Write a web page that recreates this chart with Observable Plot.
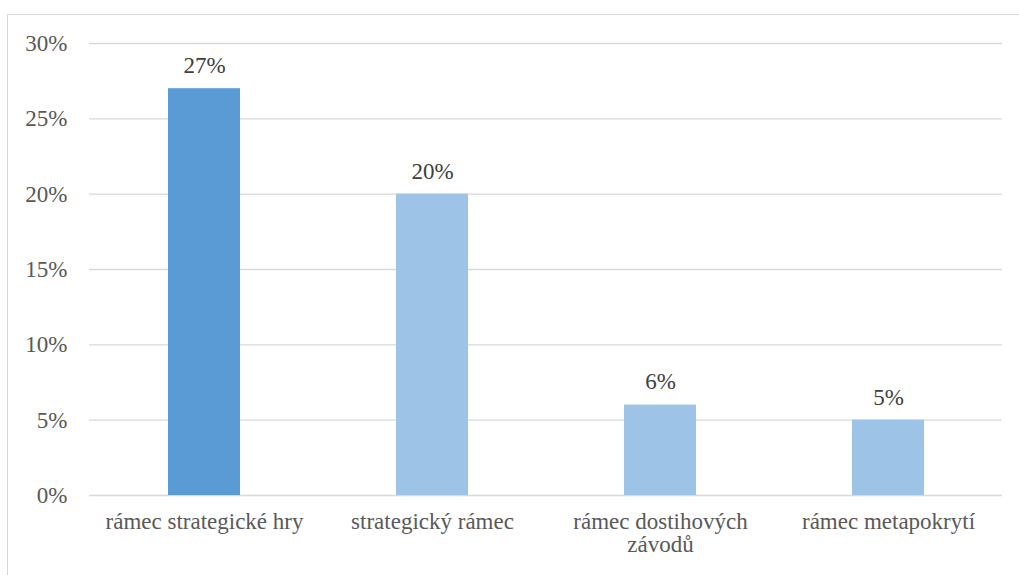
<!DOCTYPE html>
<html><head><meta charset="utf-8">
<script src="https://cdn.jsdelivr.net/npm/d3@7"></script>
<script src="https://cdn.jsdelivr.net/npm/@observablehq/plot@0.6"></script>
<style>
body{margin:0;background:#fff;}
#frame{position:absolute;left:7px;top:14px;width:1100px;height:700px;border-left:1px solid #d9d9d9;border-top:1px solid #d9d9d9;}
#chart{position:absolute;left:0;top:0;}
#chart svg, #chart svg text{font-family:"Liberation Serif","Tinos","Times New Roman",Times,"DejaVu Serif",serif !important;}
</style></head>
<body><div id="frame"></div><div id="chart"></div>
<script>
const categories = ["rámec strategické hry", "strategický rámec", "rámec dostihových\nzávodů", "rámec metapokrytí"];
const values = [27, 20, 6, 5];
const barColors = ["#5B9BD5", "#9DC3E6", "#9DC3E6", "#9DC3E6"];
const yTicks = [0, 5, 10, 15, 20, 25, 30];

const data = categories.map((c, i) => ({cat: c, value: values[i], color: barColors[i]}));
const serif = "'Liberation Serif', Tinos, 'Times New Roman', Times, 'DejaVu Serif', serif";

const chart = Plot.plot({
  width: 1019,
  height: 575,
  marginLeft: 89,
  marginRight: 17,
  marginTop: 43,
  marginBottom: 80,
  style: {fontSize: "23px", color: "#595959", background: "transparent", fontFamily: serif},
  x: {domain: categories, paddingInner: 0.685, paddingOuter: 0.3425, label: null},
  y: {domain: [0, 30], label: null},
  marks: [
    Plot.ruleY(yTicks, {stroke: "#d9d9d9", strokeWidth: 1.3}),
    Plot.barY(data, {x: "cat", y: "value", fill: "color"}),
    Plot.text(data, {x: "cat", y: "value", text: d => d.value + "%", dy: -23, fill: "#404040", fontSize: 23, fontFamily: serif}),
    Plot.axisX({tickSize: 0, tickPadding: 17, fill: "#595959", fontSize: 23, fontFamily: serif, lineHeight: 1.0}),
    Plot.axisY({ticks: yTicks, tickFormat: d => d + "%", tickSize: 0, tickPadding: 22, fill: "#595959", fontSize: 23, fontFamily: serif})
  ]
});
document.getElementById("chart").appendChild(chart);
</script>
</body></html>
